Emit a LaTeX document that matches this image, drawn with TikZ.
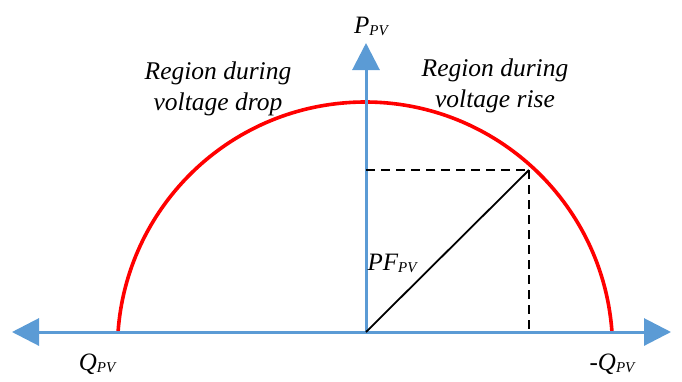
\documentclass[tikz,border=0pt]{standalone}
\usepackage{fontspec}
\setmainfont{Liberation Serif}
\usetikzlibrary{arrows.meta}
\definecolor{axisblue}{HTML}{5B9BD5}
\definecolor{arcred}{HTML}{FF0000}
\begin{document}
\begin{tikzpicture}[x=1pt,y=-1pt,
  axis/.style={draw=axisblue,line width=3pt,-{Triangle[length=27pt,width=27pt]}},
  arcline/.style={draw=arcred,line width=3.6pt},
  guide/.style={draw=black,line width=1.8pt,dash pattern=on 9pt off 6pt},
  diag/.style={draw=black,line width=1.8pt},
  lbl/.style={font=\fontsize{25.5}{31}\selectfont\itshape,inner sep=0pt,align=center},
  sym/.style={font=\fontsize{25}{28}\selectfont\itshape,inner sep=0pt}]
\useasboundingbox (0,0) rectangle (682,381);
\coordinate (O) at (366,332);
\coordinate (L) at (12,332);
\coordinate (R) at (671,332);
\coordinate (T) at (366,43);
\coordinate (C) at (365,349.6);
\coordinate (Pt) at (529,170);
\coordinate (Py) at (366,170);
\coordinate (Px) at (529,332);
% arc
\draw[arcline] (C) ++(-4.08:247.6) arc[start angle=-4.08,end angle=-175.92,radius=247.6];
% axes
\draw[axis] (O) -- (L);
\draw[axis] (O) -- (R);
\draw[axis] (O) -- (T);
% guides
\draw[guide] (Py) -- (Pt);
\draw[guide] (Pt) -- (Px);
\draw[diag] (O) -- (Pt);
% labels
\node[sym,anchor=base] (p) at (371,33) {P\raisebox{-2pt}{\fontsize{15}{16}\selectfont PV}};
\node[sym,anchor=base] (ql) at (97,370) {Q\raisebox{-2pt}{\fontsize{15}{16}\selectfont PV}};
\node[sym,anchor=base] (qr) at (612,370) {-Q\raisebox{-2pt}{\fontsize{15}{16}\selectfont PV}};
\node[sym,anchor=base] (pf) at (392,270) {PF\raisebox{-2pt}{\fontsize{15}{16}\selectfont PV}};
\node[lbl] (drop) at (218,89) {Region during\\voltage drop};
\node[lbl] (rise) at (495,86) {Region during\\voltage rise};
\end{tikzpicture}
\end{document}
